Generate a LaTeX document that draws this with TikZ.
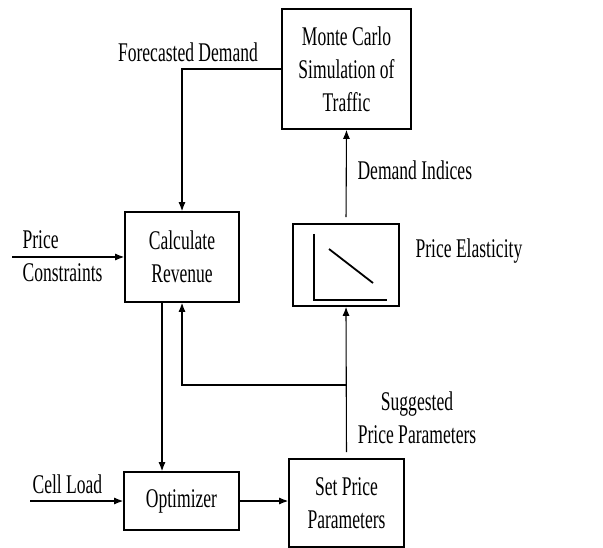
\documentclass[tikz,border=0pt]{standalone}
\usepackage{fontspec}
\setmainfont{Liberation Serif}[FakeStretch=0.65]
\usetikzlibrary{arrows.meta}

\begin{document}
\begin{tikzpicture}[x=1pt, y=-1pt, line width=1.1pt,
	>={Latex[length=9pt,width=7pt]},
	every node/.style={font=\fontsize{27}{33}\selectfont},
	block/.style={draw, line width=1.6pt, align=center, inner sep=0pt},
	lbl/.style={inner sep=0pt, align=center}]
	\useasboundingbox (0,0) rectangle (603,548);

	\node at (346.5,69) [block, minimum width=129pt, minimum height=120pt] (mc) {Monte Carlo\\Simulation of\\Traffic};
	\node at (182,257) [block, minimum width=114pt, minimum height=90pt] (calc) {Calculate\\Revenue};
	\node at (346,265) [block, minimum width=106pt, minimum height=82pt] (elas) {};
	\node at (181.5,501) [block, minimum width=115pt, minimum height=58pt] (opt) {Optimizer};
	\node at (346.5,503) [block, minimum width=115pt, minimum height=88pt] (setp) {Set Price\\Parameters};

	\node at (188,62) [lbl, anchor=base] (fd) {Forecasted Demand};
	\node at (22,256) [lbl, anchor=west, align=left] (pc) {Price\\Constraints};
	\node at (415,258) [lbl, anchor=base west] (pe) {Price Elasticity};
	\node at (357,180) [lbl, anchor=base west] (di) {Demand Indices};
	\node at (417,418) [lbl] (spp) {Suggested\\Price Parameters};
	\node at (32,493) [lbl, anchor=base west] (cl) {Cell Load};

	\coordinate (pcin) at (12,257);
	\coordinate (clin) at (30,501);
	\coordinate (br) at (346.5,385);

	% elasticity curve
	\draw [line width=1.8pt] (314,234) -- (314,300) -- (387,300);
	\draw [line width=1.8pt] (329,249) -- (373,283);

	\draw [->] (mc.west) -| (calc.north);
	\draw [->] (pcin) -- (calc.west);
	\draw [->, shorten <=6pt] (elas.north) -- (mc.south);
	\draw [->, shorten <=6pt] (setp.north) -- (elas.south);
	\draw [->] (br) -| (calc.south);
	\draw [->] ([xshift=-20pt]calc.south) -- ([xshift=-19.5pt]opt.north);
	\draw [->] (clin) -- (opt.west);
	\draw [->] (opt.east) -- (opt.east -| setp.west);
\end{tikzpicture}
\end{document}
